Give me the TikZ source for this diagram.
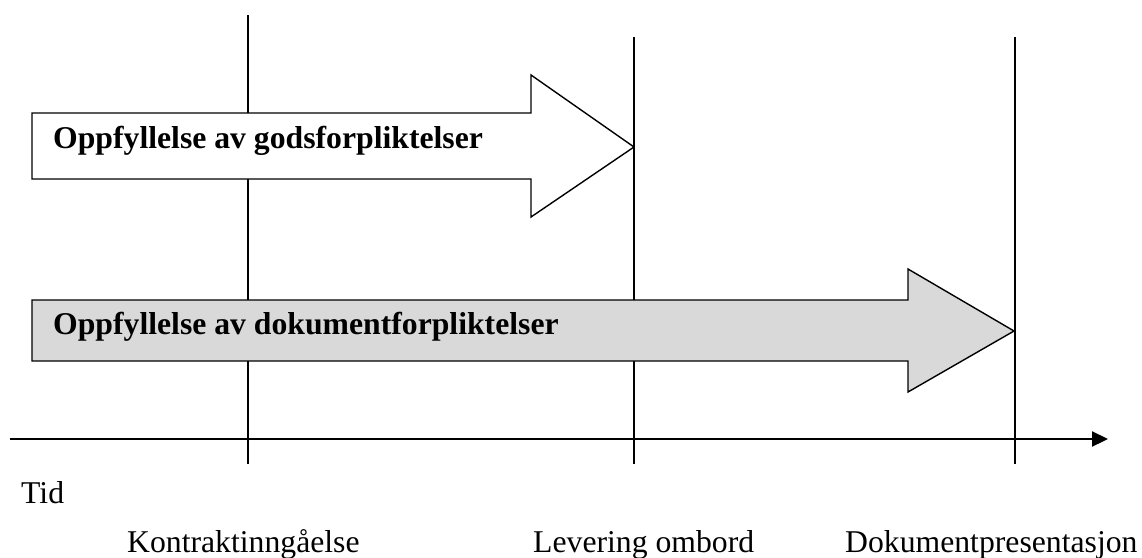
\documentclass[tikz,border=0pt]{standalone}
\usepackage{fontspec}
\setmainfont{Liberation Serif}
\usetikzlibrary{arrows.meta}
\begin{document}
\begin{tikzpicture}[x=1pt,y=-1pt,
  vline/.style={line width=1.4pt},
  blockarrow/.style={line width=1.4pt, line join=miter},
  lab/.style={font=\fontsize{31.7}{34}\selectfont, inner sep=0pt, anchor=base west},
  blab/.style={font=\fontsize{31.7}{34}\selectfont\bfseries, inner sep=0pt, anchor=base west}]
\useasboundingbox (0,0) rectangle (1142,557);
% vertical time markers
\coordinate (k1) at (248,15);  \coordinate (k2) at (248,464);
\coordinate (l1) at (634,37);  \coordinate (l2) at (634,464);
\coordinate (d1) at (1015,37); \coordinate (d2) at (1015,464);
\draw[vline] (k1) -- (k2);
\draw[vline] (l1) -- (l2);
\draw[vline] (d1) -- (d2);
% goods obligations arrow
\draw[blockarrow, fill=white] (32,113) -- (531,113) -- (531,75) -- (634,147) -- (531,217) -- (531,179) -- (32,179) -- cycle;
\node[blab] (gods) at (53,148) {Oppfyllelse av godsforpliktelser};
% document obligations arrow
\draw[blockarrow, fill={rgb,255:red,217;green,217;blue,217}] (32,300) -- (908,300) -- (908,269) -- (1014,331) -- (908,392) -- (908,361) -- (32,361) -- cycle;
\node[blab] (dok) at (53,334) {Oppfyllelse av dokumentforpliktelser};
% time axis
\coordinate (a0) at (10,439);
\coordinate (a1) at (1108,439);
\draw[line width=2.2pt, -{Triangle[length=16pt,width=15pt]}] (a0) -- (a1);
\node[lab] (tid) at (21,503) {Tid};
\node[lab] (kon) at (127,552) {Kontraktinngåelse};
\node[lab] (lev) at (533,552) {Levering ombord};
\node[lab] (dokp) at (845,552) {Dokumentpresentasjon};
\end{tikzpicture}
\end{document}
